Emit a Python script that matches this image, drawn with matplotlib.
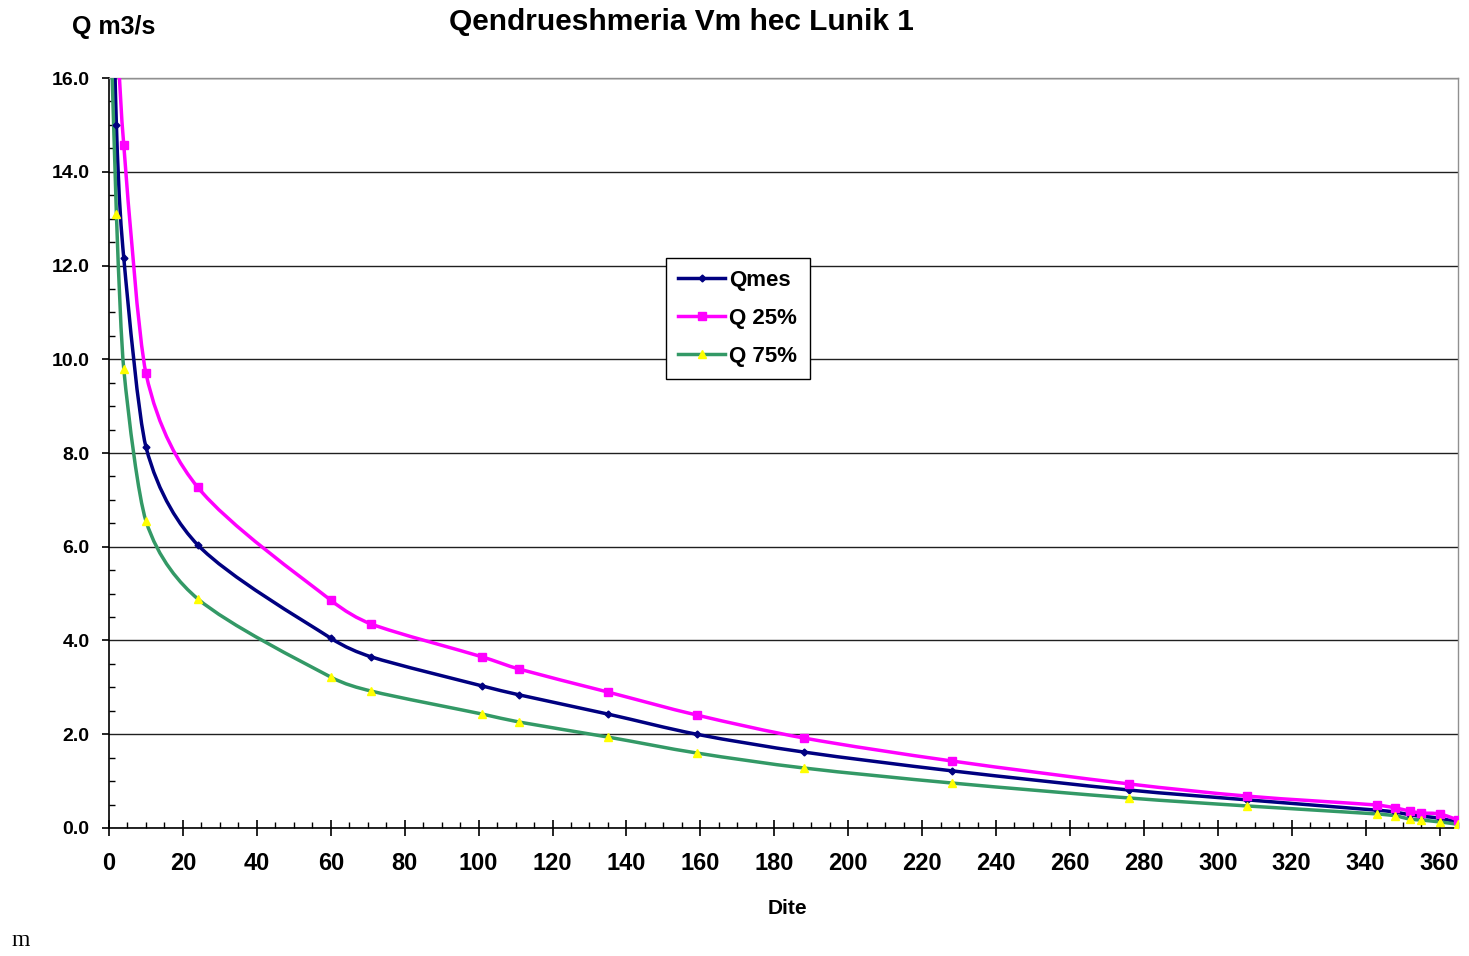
import matplotlib
matplotlib.use("Agg")
import matplotlib.pyplot as plt
from matplotlib.lines import Line2D
from matplotlib.path import Path
from matplotlib.patches import PathPatch
from matplotlib.ticker import MultipleLocator, FormatStrFormatter

# Flow duration curves.
DAYS = [0, 2, 4, 10, 24, 60, 71, 101, 111, 135, 159, 188, 228, 276, 308,
        343, 348, 352, 355, 360, 365]
QMES = [22.0, 15.0, 12.16, 8.13, 6.04, 4.05, 3.65, 3.03, 2.84, 2.43, 2.00,
        1.62, 1.22, 0.81, 0.60, 0.38, 0.34, 0.28, 0.25, 0.21, 0.12]
Q25 = [26.0, 17.8, 14.57, 9.70, 7.27, 4.86, 4.35, 3.65, 3.39, 2.90, 2.41,
       1.92, 1.43, 0.94, 0.68, 0.49, 0.43, 0.36, 0.32, 0.30, 0.17]
Q75 = [18.5, 13.1, 9.79, 6.55, 4.89, 3.22, 2.92, 2.43, 2.26, 1.94, 1.60,
       1.28, 0.96, 0.64, 0.47, 0.30, 0.26, 0.19, 0.17, 0.13, 0.08]

SERIES = [
    ("Qmes", QMES, "#000080", "D", "#000080", 3.5),
    ("Q 25%", Q25, "#FF00FF", "s", "#FF00FF", 5.5),
    ("Q 75%", Q75, "#339966", "^", "#FFFF00", 6),
]

FONT = "Liberation Sans"


def smooth_path(xs, ys):
    """Smoothed line like Excel's: Catmull-Rom Beziers, handles kept inside each segment."""
    pts = list(zip(xs, ys))
    n = len(pts)
    verts = [pts[0]]
    codes = [Path.MOVETO]

    def handle(i, j):
        # tangent at point i, limited to a third of the segment towards j
        a = pts[i - 1] if i > 0 else pts[i]
        b = pts[i + 1] if i + 1 < n else pts[i]
        tx, ty = (b[0] - a[0]) / 6, (b[1] - a[1]) / 6
        seg = abs(pts[j][0] - pts[i][0]) / 3
        s = min(1.0, seg / abs(tx)) if tx else 1.0
        return tx * s, ty * s

    for i in range(n - 1):
        p1, p2 = pts[i], pts[i + 1]
        t1 = handle(i, i + 1)
        t2 = handle(i + 1, i)
        verts += [(p1[0] + t1[0], p1[1] + t1[1]),
                  (p2[0] - t2[0], p2[1] - t2[1]), p2]
        codes += [Path.CURVE4] * 3
    return Path(verts, codes)


fig = plt.figure(figsize=(14.69, 9.56), dpi=100)
ax = fig.add_axes([0.0742, 0.1339, 0.9183, 0.7845])

handles = []
for label, vals, color, marker, mcolor, msize in SERIES:
    patch = PathPatch(smooth_path(DAYS, vals), facecolor="none", edgecolor=color,
                      linewidth=2.5, zorder=3, capstyle="round", joinstyle="round")
    ax.add_patch(patch)
    ax.plot(DAYS, vals, linestyle="none", marker=marker, markersize=msize,
            markerfacecolor=mcolor, markeredgecolor=mcolor, zorder=4)
    handles.append(Line2D([], [], color=color, linewidth=2.5, marker=marker,
                          markersize=msize, markerfacecolor=mcolor,
                          markeredgecolor=mcolor))

ax.set_xlim(0, 365)
ax.set_ylim(0, 16)
ax.xaxis.set_major_locator(MultipleLocator(20))
ax.xaxis.set_minor_locator(MultipleLocator(5))
ax.yaxis.set_major_locator(MultipleLocator(2))
ax.yaxis.set_minor_locator(MultipleLocator(0.5))
ax.yaxis.set_major_formatter(FormatStrFormatter("%.1f"))

ax.grid(axis="y", which="major", color="#202020", linewidth=1.0, zorder=1)
ax.set_axisbelow(True)

for side in ("top", "right"):
    ax.spines[side].set_color("#909090")
    ax.spines[side].set_linewidth(1.0)
for side in ("left", "bottom"):
    ax.spines[side].set_color("black")
    ax.spines[side].set_linewidth(1.2)

ax.tick_params(axis="x", which="major", direction="inout", length=11, width=1.2,
               pad=12)
ax.tick_params(axis="x", which="minor", direction="in", length=4, width=1.0)
ax.tick_params(axis="y", which="major", direction="out", length=5, width=1.2,
               pad=9)
ax.tick_params(axis="y", which="minor", direction="in", length=4, width=1.0)

for t in ax.get_xticklabels():
    t.set_fontfamily(FONT)
    t.set_fontweight("bold")
    t.set_fontsize(17)
for t in ax.get_yticklabels():
    t.set_fontfamily(FONT)
    t.set_fontweight("bold")
    t.set_fontsize(14)

leg = ax.legend(handles, [s[0] for s in SERIES], loc="upper left",
                bbox_to_anchor=(0.413, 0.76), borderaxespad=0, fancybox=False,
                framealpha=1, edgecolor="black", handlelength=2.1,
                handletextpad=0.2, labelspacing=0.75, borderpad=0.55,
                prop={"family": FONT, "weight": "bold", "size": 16})
leg.get_frame().set_linewidth(1.0)

fig.text(0.464, 0.977, "Qendrueshmeria Vm hec Lunik 1", ha="center", va="center",
         fontfamily=FONT, fontweight="bold", fontsize=21.5)
fig.text(0.049, 0.972, "Q m3/s", ha="left", va="center",
         fontfamily=FONT, fontweight="bold", fontsize=18)
fig.text(0.5357, 0.050, "Dite", ha="center", va="center",
         fontfamily=FONT, fontweight="bold", fontsize=15)
fig.text(0.008, 0.016, "m", ha="left", va="center",
         fontfamily="Liberation Serif", fontsize=17)

fig.savefig("out.png", dpi=100)
